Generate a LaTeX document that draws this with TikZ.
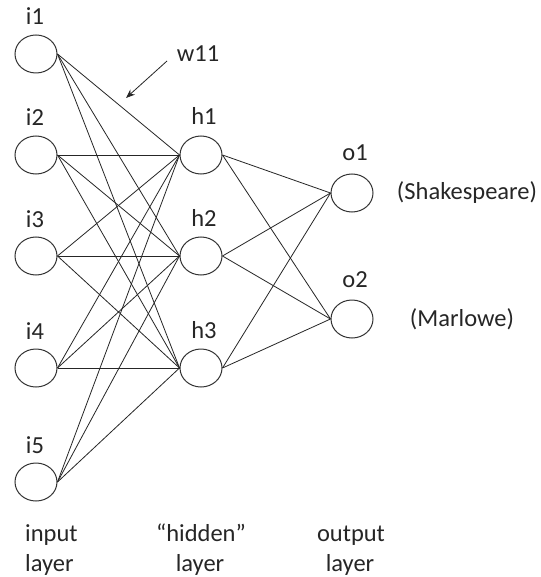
\documentclass[tikz,border=0pt]{standalone}
\usepackage{fontspec}
\setmainfont{Carlito}
\usetikzlibrary{arrows.meta,shapes.geometric}
\begin{document}
\begin{tikzpicture}[x=1pt,y=-1pt,
  neuron/.style={draw=black!80, line width=1pt, ellipse, minimum width=42pt, minimum height=38pt, inner sep=0pt},
  lbl/.style={font=\fontsize{24.5}{31}\selectfont, text=black!85, inner sep=0pt, anchor=base},
  link/.style={draw=black!85, line width=0.8pt}]
\useasboundingbox (0,0) rectangle (540,577);
\fill[white] (0,0) rectangle (540,577);

% input layer
\foreach \n/\y in {1/54,2/155,3/256,4/368,5/482}{
  \node[neuron] (i\n) at (36,\y) {};
  \node[lbl] at (35,\y-29) {i\n};
}
% hidden layer
\foreach \n/\y in {1/155,2/256,3/368}{
  \node[neuron] (h\n) at (201,\y) {};
  \node[lbl] at (204,\y-30) {h\n};
}
% output layer
\foreach \n/\y in {1/193,2/319}{
  \node[neuron] (o\n) at (352,\y) {};
  \node[lbl] at (355,\y-32) {o\n};
}

% weights
\foreach \a in {1,...,5}
  \foreach \b in {1,2,3}
    \draw[link] (i\a.east) -- (h\b.west);
\foreach \b in {1,2,3}
  \foreach \c in {1,2}
    \draw[link] (h\b.east) -- (o\c.west);

% annotation
\node[lbl] (w) at (198,62) {w11};
\coordinate (wtip) at (126,98);
\draw[link, -{Stealth[length=9pt,width=7pt]}] (167,61) -- (wtip);

\node[lbl] (sh) at (467,200) {(Shakespeare)};
\node[lbl] (ma) at (462,326) {(Marlowe)};

% layer captions
\node[lbl, anchor=base west] at (25,541) {input};
\node[lbl, anchor=base west] at (25,571) {layer};
\node[lbl] at (201,541) {“hidden”};
\node[lbl] at (200,571) {layer};
\node[lbl] at (351,541) {output};
\node[lbl] at (350,571) {layer};
\end{tikzpicture}
\end{document}
